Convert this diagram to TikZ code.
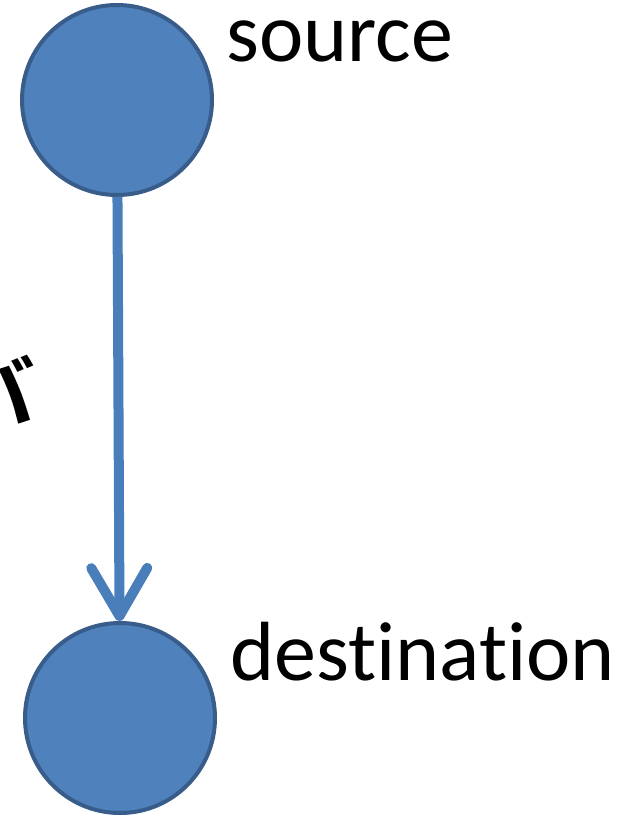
\documentclass[tikz,border=0pt]{standalone}
\usepackage{fontspec}
\setmainfont{Carlito}[RawFeature={-liga;-dlig;-clig}]
\newfontfamily\jpfont{Noto Sans CJK JP}[BoldFont={Noto Sans CJK JP Bold}]
\usepackage{tikz}
\usetikzlibrary{arrows.meta,shapes}
\definecolor{nodeblue}{HTML}{4F81BD}
\definecolor{nodeedge}{HTML}{385D8A}
\definecolor{edgeblue}{HTML}{4A7EBB}
\tikzstyle{vertex}=[circle,fill=nodeblue,draw=nodeedge,line width=2pt,minimum size=95pt,inner sep=0pt]
\tikzstyle{label}=[anchor=base west,inner sep=0pt,font=\fontsize{42}{42}\selectfont]
\tikzstyle{arrow} = [draw=edgeblue,line width=5pt,-{Straight Barb[length=24pt,width=28pt,line cap=round,round]}]

\begin{document}
\begin{tikzpicture}[x=0.5pt,y=-0.5pt]
    \clip (0,0) rectangle (630,818);
    \node[vertex] (src) at (117,100) {};
    \node[vertex] (dst) at (120,718) {};
    \node[label] (srclabel) at (226,62) {source};
    \node[label] (dstlabel) at (230,680) {destination};
    \node[label,font=\jpfont\bfseries\fontsize{40}{40}\selectfont] (edgelabel) at (-45,422) {バ};
    \path[arrow] (src) -- (dst);
\end{tikzpicture}
\end{document}
